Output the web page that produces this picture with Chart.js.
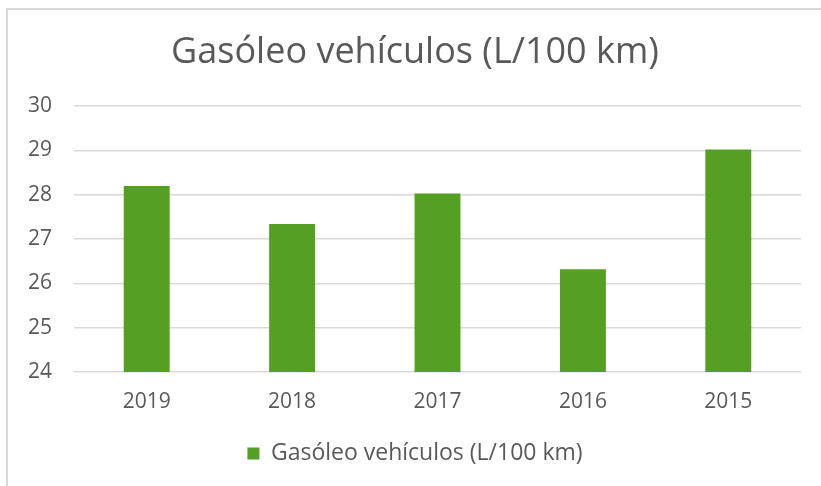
<!DOCTYPE html>
<html>
<head>
<meta charset="utf-8">
<script src="https://cdn.jsdelivr.net/npm/chart.js@4/dist/chart.umd.min.js"></script>
<style>
  html, body { margin: 0; padding: 0; background: #fff; overflow: hidden; }
  #frame { position: absolute; left: 6px; top: 8px; width: 900px; height: 600px; border: 2px solid #d9d9d9; box-sizing: border-box; }
  #wrap { position: absolute; left: 0; top: 0; width: 821px; height: 486px; }
</style>
</head>
<body>
<div id="frame"></div>
<div id="wrap"><canvas id="c" width="821" height="486"></canvas></div>
<script>
const categories = ["2019", "2018", "2017", "2016", "2015"];
const seriesName = "Gasóleo vehículos (L/100 km)";
const seriesValues = [28.2, 27.34, 28.03, 26.32, 29.02];
const chartTitle = "Gasóleo vehículos (L/100 km)";
const yMin = 24, yMax = 30, yStep = 1;

const FONT = "'Open Sans', sans-serif";
const TXT = "#595959";

new Chart(document.getElementById("c"), {
  type: "bar",
  data: {
    labels: categories,
    datasets: [{
      label: seriesName,
      data: seriesValues,
      backgroundColor: "#55a022",
      borderWidth: 0,
      categoryPercentage: 1,
      barPercentage: 0.316
    }]
  },
  options: {
    responsive: false,
    animation: false,
    devicePixelRatio: 1,
    layout: { padding: { left: 9, right: 0, top: 0, bottom: 11 } },
    plugins: {
      title: {
        display: true,
        text: chartTitle,
        color: TXT,
        font: { family: FONT, size: 36, weight: "normal" },
        padding: { top: 31, bottom: 32 }
      },
      legend: {
        display: true,
        position: "bottom",
        labels: {
          color: TXT,
          font: { family: FONT, size: 23 },
          boxWidth: 12,
          boxHeight: 12,
          padding: 10
        }
      },
      tooltip: { enabled: false }
    },
    scales: {
      x: {
        grid: { display: false, drawTicks: false },
        border: { display: false },
        ticks: { color: TXT, font: { family: FONT, size: 21 }, padding: 17 },
        afterFit(scale) { scale.height = 60; }
      },
      y: {
        min: yMin,
        max: yMax,
        grid: { color: "#d9d9d9", lineWidth: 1.5, drawTicks: false },
        border: { display: false },
        ticks: { stepSize: yStep, color: TXT, font: { family: FONT, size: 21 }, padding: 22 },
        afterFit(scale) { scale.width = 65; }
      },
      yRight: {
        type: "linear",
        position: "right",
        display: true,
        grid: { display: false, drawTicks: false },
        border: { display: false },
        ticks: { display: false },
        afterFit(scale) { scale.width = 20; }
      }
    }
  }
});
</script>
</body>
</html>
